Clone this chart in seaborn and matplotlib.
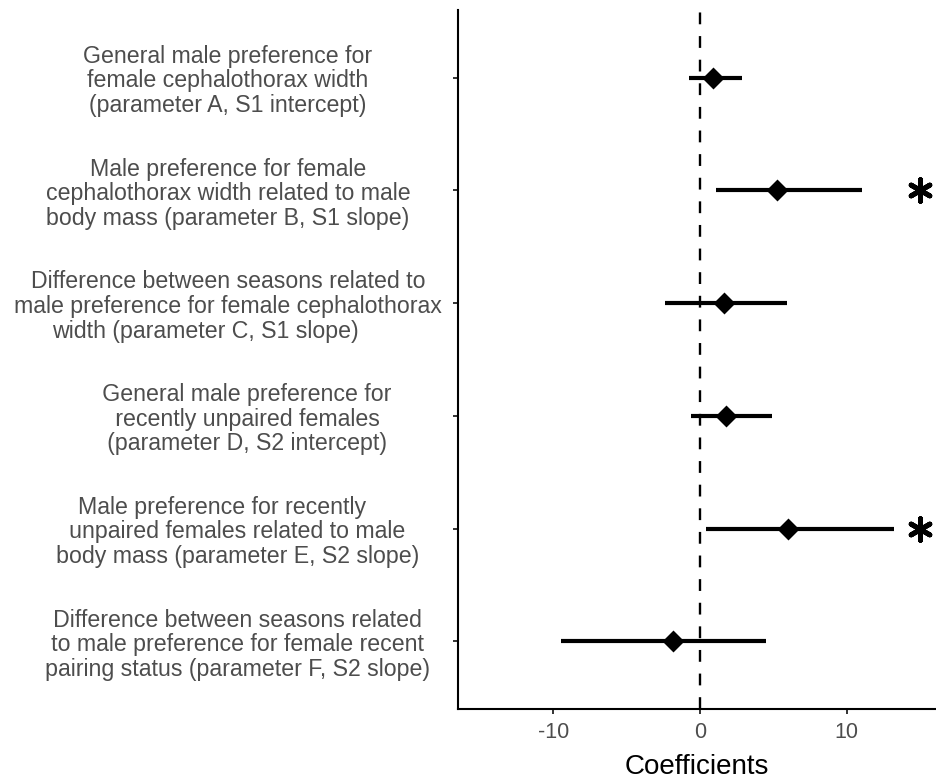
import matplotlib
matplotlib.use("Agg")
import matplotlib.pyplot as plt
import seaborn as sns
import pandas as pd

# model parameters, top to bottom
labels = [
    "General male preference for\nfemale cephalothorax width\n(parameter A, S1 intercept)",
    "Male preference for female\ncephalothorax width related to male\nbody mass (parameter B, S1 slope)",
    "Difference between seasons related to\nmale preference for female cephalothorax\nwidth (parameter C, S1 slope)       ",
    "      General male preference for\n      recently unpaired females\n      (parameter D, S2 intercept)",
    "Male preference for recently  \n   unpaired females related to male\n   body mass (parameter E, S2 slope)",
    "   Difference between seasons related\n   to male preference for female recent\n   pairing status (parameter F, S2 slope)",
]
estimate = [0.91, 5.27, 1.61, 1.77, 5.98, -1.82]
lower = [-0.75, 1.09, -2.39, -0.64, 0.39, -9.50]
upper = [2.88, 11.07, 5.91, 4.89, 13.23, 4.48]
significant = [False, True, False, False, True, False]
star_x = 15

df = pd.DataFrame({
    "label": labels,
    "estimate": estimate,
    "lower": lower,
    "upper": upper,
    "significant": significant,
})
df["pos"] = range(1, len(df) + 1)

sns.set_style("ticks")
plt.rcParams["font.family"] = ["Liberation Sans", "DejaVu Sans"]

fig = plt.figure(figsize=(9.36, 7.8), dpi=100)
ax = fig.add_axes([458 / 936, 1 - 709 / 780, 1 - 458 / 936, (709 - 10) / 780])

# reference line at zero
ax.axvline(0, color="black", lw=1.7, ls=(0, (5, 5)), zorder=1)

# confidence intervals
ax.hlines(df["pos"], df["lower"], df["upper"], color="black", lw=3.0, zorder=2)

# point estimates
sns.scatterplot(data=df, x="estimate", y="pos", marker="D", s=125,
                color="black", linewidth=0, ax=ax, zorder=3, legend=False)

# significance markers
sig = df[df["significant"]]
sns.scatterplot(x=[star_x] * len(sig), y=sig["pos"].values, marker=(6, 2, 0),
                s=240, color="black", edgecolor="black", linewidth=3.6,
                ax=ax, zorder=3, legend=False)

ax.set_xlim(-16.5, 16.09)
ax.set_ylim(6.6, 0.4)
ax.set_xticks([-10, 0, 10])
ax.set_xticklabels(["-10", "0", "10"])
ax.set_yticks(df["pos"])
ax.set_yticklabels(df["label"])
for t in ax.get_yticklabels():
    t.set_ha("center")
    t.set_multialignment("center")
    t.set_linespacing(1.09)

ax.tick_params(axis="y", length=3.6, width=1.4, color="#333333",
               labelcolor="#4D4D4D", labelsize=16.7, pad=162)
ax.tick_params(axis="x", length=3.6, width=1.4, color="#333333",
               labelcolor="#4D4D4D", labelsize=15.5, pad=6)

ax.set_xlabel("Coefficients", fontsize=20, color="black", labelpad=8)
ax.set_ylabel("")

sns.despine(ax=ax, top=True, right=True)
for side in ["left", "bottom"]:
    ax.spines[side].set_linewidth(1.5)
    ax.spines[side].set_color("black")

fig.savefig("out.png", dpi=100)
